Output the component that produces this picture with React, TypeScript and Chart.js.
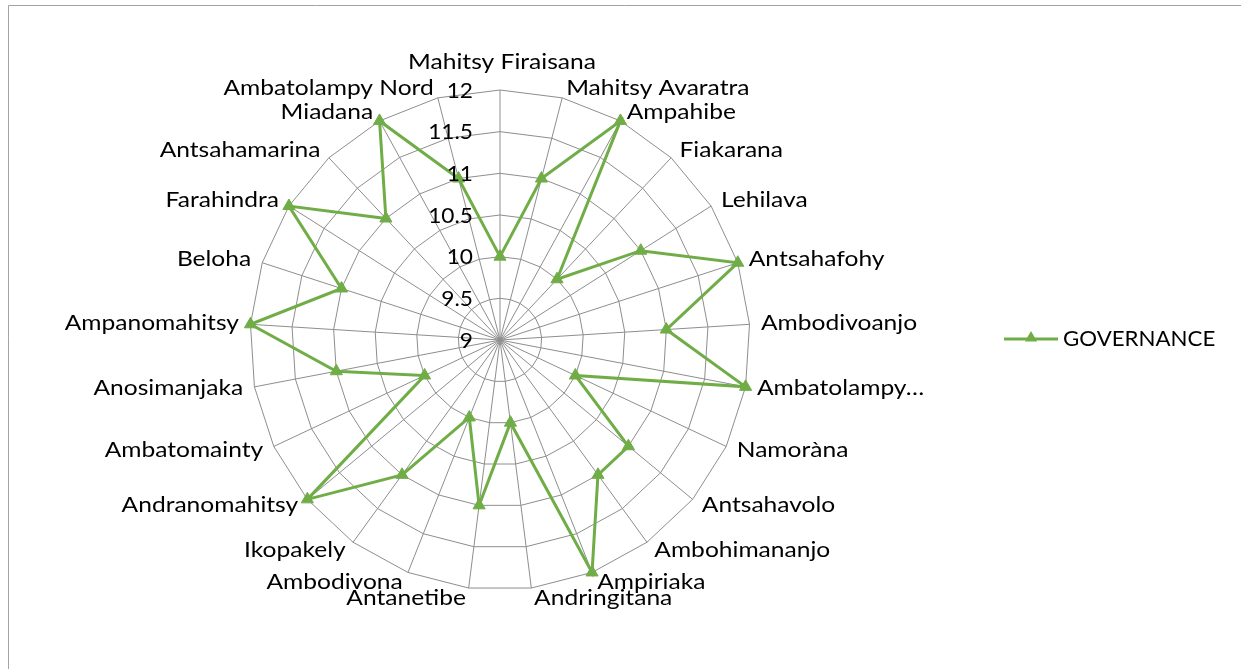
import React, { useEffect, useRef } from "react";
import { Chart, registerables } from "chart.js";

Chart.register(...registerables);

// Communes shown around the radar, clockwise from the top
const categories: string[] = [
  "Mahitsy Firaisana",
  "Mahitsy Avaratra",
  "Ampahibe",
  "Fiakarana",
  "Lehilava",
  "Antsahafohy",
  "Ambodivoanjo",
  "Ambatolampy…",
  "Namoràna",
  "Antsahavolo",
  "Ambohimananjo",
  "Ampiriaka",
  "Andringitana",
  "Antanetibe",
  "Ambodivona",
  "Ikopakely",
  "Andranomahitsy",
  "Ambatomainty",
  "Anosimanjaka",
  "Ampanomahitsy",
  "Beloha",
  "Farahindra",
  "Antsahamarina",
  "Miadana",
  "Ambatolampy Nord",
];

const seriesName = "GOVERNANCE";

const governanceValues: number[] = [
  10, 11, 12, 10, 11, 12, 11, 12, 10, 11, 11, 12, 10,
  11, 10, 11, 12, 10, 11, 12, 11, 12, 11, 12, 11,
];

const tickValues: number[] = [9, 9.5, 10, 10.5, 11, 11.5, 12];
const tickLabels: string[] = ["9", "9.5", "10", "10.5", "11", "11.5", "12"];

const GREEN = "#70AD47";
const GRID = "#8E8E8E";
const TEXT = "#000000";
const FONT = "21px Lato, 'Open Sans', sans-serif";

const W = 1241;
const H = 669;

// Text drawn with a slight horizontal widening
function wideText(
  ctx: CanvasRenderingContext2D,
  text: string,
  x: number,
  y: number,
  align: CanvasTextAlign,
  sx: number
) {
  ctx.save();
  ctx.translate(x, y);
  ctx.scale(sx, 1);
  ctx.textAlign = align;
  ctx.textBaseline = "middle";
  ctx.fillText(text, 0, 0);
  ctx.restore();
}

// Draws the frame, point labels, value labels and the legend
const decorPlugin = {
  id: "radarDecor",
  beforeDraw(chart: any) {
    const { ctx } = chart;
    ctx.save();
    ctx.fillStyle = "#ffffff";
    ctx.fillRect(0, 0, chart.width, chart.height);
    ctx.strokeStyle = "#A3A3A3";
    ctx.lineWidth = 1;
    ctx.beginPath();
    ctx.moveTo(8.5, chart.height);
    ctx.lineTo(8.5, 5.5);
    ctx.lineTo(chart.width, 5.5);
    ctx.stroke();
    ctx.restore();
  },
  afterDraw(chart: any) {
    const { ctx } = chart;
    const scale = chart.scales.r;
    const n = categories.length;
    const outer = scale.drawingArea;

    ctx.save();
    ctx.font = FONT;
    ctx.fillStyle = TEXT;

    // category labels just outside the outer ring
    categories.forEach((label, i) => {
      const deg = (i * 360) / n;
      const p = scale.getPointPosition(i, outer + 10);
      if (deg === 0) {
        wideText(ctx, label, p.x + 2, p.y - 18, "center", 1.17);
      } else if (deg < 180) {
        wideText(ctx, label, p.x + 1.5, p.y, "left", 1.17);
      } else {
        wideText(ctx, label, p.x - 1.5, p.y, "right", 1.17);
      }
    });

    // value labels along the vertical axis
    tickValues.forEach((v, i) => {
      const d = scale.getDistanceFromCenterForValue(v);
      wideText(ctx, tickLabels[i], scale.xCenter - 27, scale.yCenter - d + 1, "right", 1.08);
    });

    // legend entry: line with a triangle marker
    const ly = 339;
    ctx.strokeStyle = GREEN;
    ctx.lineWidth = 3;
    ctx.beginPath();
    ctx.moveTo(1004, ly);
    ctx.lineTo(1058, ly);
    ctx.stroke();
    const r = 7;
    const cx = 1031;
    ctx.fillStyle = GREEN;
    ctx.beginPath();
    for (let k = 0; k < 3; k++) {
      const a = (k * 2 * Math.PI) / 3;
      const x = cx + Math.sin(a) * r;
      const y = ly - 1 - Math.cos(a) * r;
      if (k === 0) ctx.moveTo(x, y);
      else ctx.lineTo(x, y);
    }
    ctx.closePath();
    ctx.fill();

    ctx.fillStyle = TEXT;
    wideText(ctx, seriesName, 1063, ly, "left", 1.06);
    ctx.restore();
  },
};

export default function App() {
  const canvasRef = useRef<HTMLCanvasElement | null>(null);

  useEffect(() => {
    const canvas = canvasRef.current;
    if (!canvas) return;
    const chart = new Chart(canvas, {
      type: "radar",
      data: {
        labels: categories,
        datasets: [
          {
            label: seriesName,
            data: governanceValues,
            borderColor: GREEN,
            backgroundColor: GREEN,
            borderWidth: 3,
            fill: false,
            tension: 0,
            pointStyle: "triangle",
            pointRadius: 7,
            pointBorderWidth: 1,
            pointBackgroundColor: GREEN,
            pointBorderColor: GREEN,
          },
        ],
      },
      options: {
        responsive: false,
        animation: false,
        events: [],
        layout: {
          padding: { left: 250, right: W - 750, top: 90, bottom: H - 590 },
        },
        plugins: {
          legend: { display: false },
          tooltip: { enabled: false },
        },
        scales: {
          r: {
            min: 9,
            max: 12,
            ticks: { stepSize: 0.5, display: false },
            grid: { color: GRID, lineWidth: 1, circular: false },
            angleLines: { color: GRID, lineWidth: 1 },
            pointLabels: { display: false },
          },
        },
      },
      plugins: [decorPlugin],
    });
    return () => chart.destroy();
  }, []);

  return (
    <div style={{ position: "fixed", left: 0, top: 0, width: W, height: H, background: "#fff" }}>
      <canvas ref={canvasRef} width={W} height={H} style={{ display: "block" }} />
    </div>
  );
}
